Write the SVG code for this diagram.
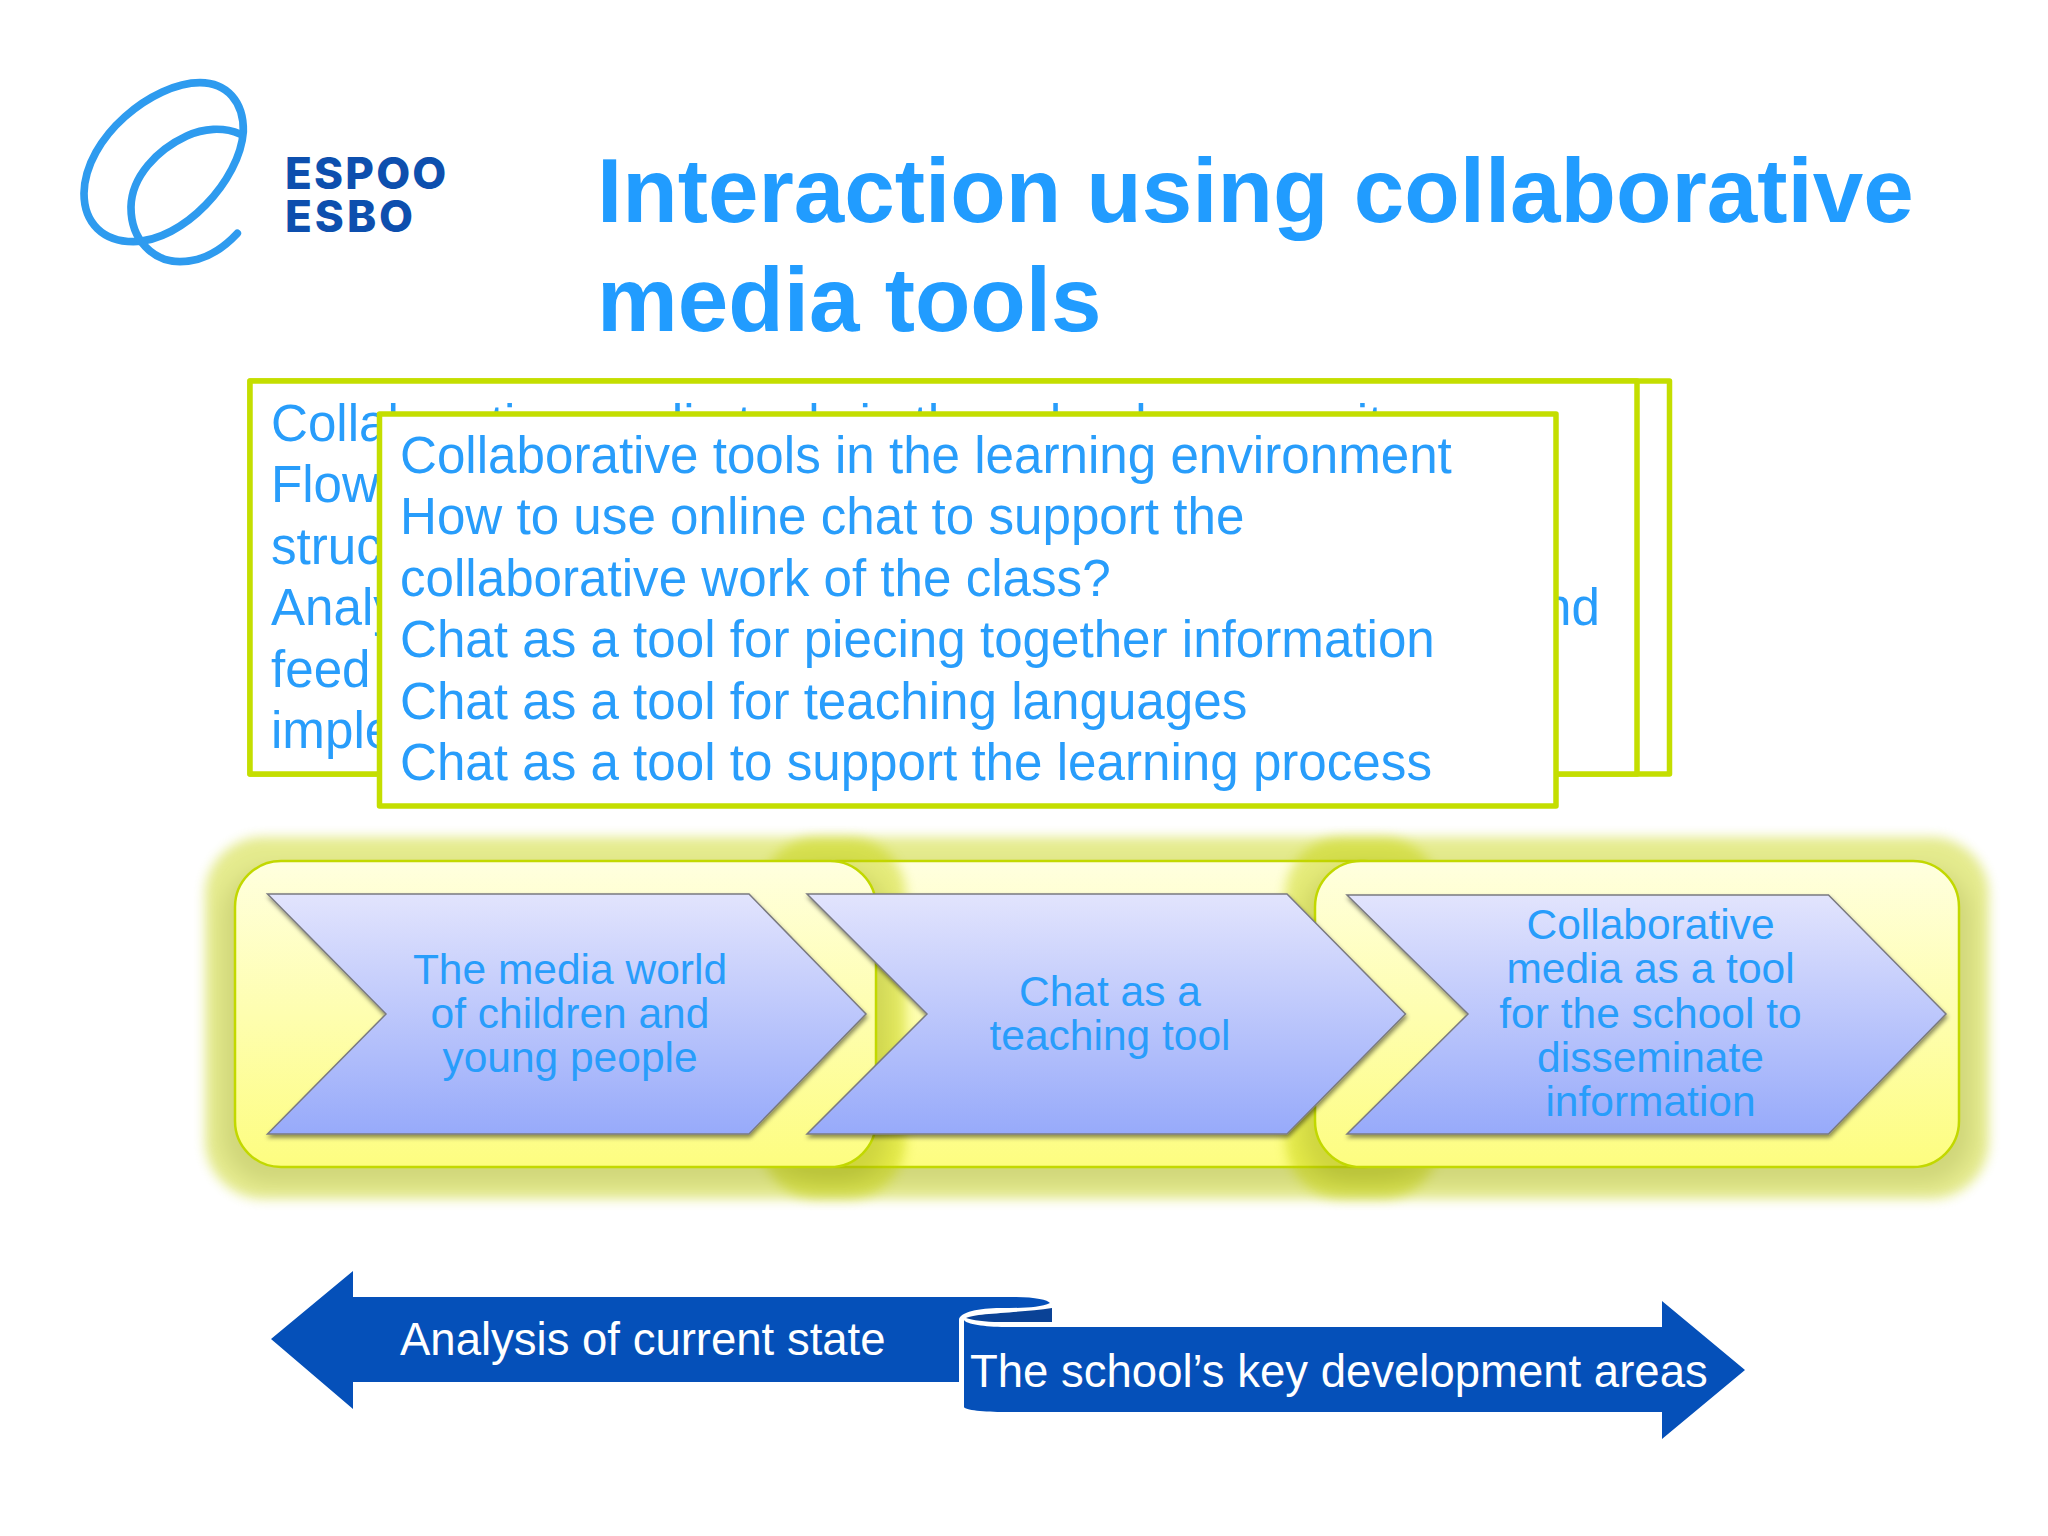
<svg xmlns="http://www.w3.org/2000/svg" width="2048" height="1536" viewBox="0 0 2048 1536">
<style>
text{font-family:"Liberation Sans",Arial,sans-serif}
.title{font-size:90.800px;font-weight:bold;fill:#219cff}
.body{font-size:51.150px;fill:#289dfb}
.box{fill:#fff;stroke:#c4de00;stroke-width:5.5;stroke-linejoin:round}
.chev{font-size:42.500px;fill:#289dfb;text-anchor:middle}
.panel{fill:url(#pg);stroke:#c2d800;stroke-width:2.5}
.glow{fill:#c4d200;opacity:.44;filter:url(#gb)}
.shade{fill:#000;opacity:.14;filter:url(#sb)}
.chevron{fill:url(#cg);stroke:#7a7a80;stroke-width:1.5;filter:url(#ds)}
.ban{font-size:45.500px;fill:#fff}
.blue{fill:#0550b9}
.logo{font-family:Inter,"Liberation Sans",sans-serif;font-weight:800;font-size:44px;fill:#0d4fae}
</style>
<defs>
<linearGradient id="pg" x1="0" y1="0" x2="0" y2="1"><stop offset="0" stop-color="#ffffdf"/><stop offset="1" stop-color="#fdfd80"/></linearGradient>
<linearGradient id="cg" x1="0" y1="0" x2="0" y2="1"><stop offset="0" stop-color="#e2e4fd"/><stop offset="1" stop-color="#97aafa"/></linearGradient>
<filter id="gb" x="-10%" y="-20%" width="120%" height="140%"><feGaussianBlur stdDeviation="6"/></filter>
<filter id="sb" x="-10%" y="-20%" width="120%" height="140%"><feGaussianBlur stdDeviation="10"/></filter>
<filter id="ds" x="-5%" y="-5%" width="110%" height="115%"><feDropShadow dx="1" dy="3" stdDeviation="2" flood-color="#000" flood-opacity=".45"/></filter>
</defs>
<rect width="2048" height="1536" fill="#fff"/>

<g id="logo">
<g transform="translate(60 60) scale(.3333)" fill="none" stroke="#2e9bef" stroke-width="23" stroke-linecap="round">
<path d="M420 68C500 68 552 125 550 215C540 360 370 545 220 545C130 545 72 490 72 400C75 230 280 68 420 68Z"/>
<path d="M540 222C490 200 430 205 380 228C290 270 215 350 213 440C212 540 280 605 360 605C430 605 490 565 532 520"/>
</g>
<text class="logo" x="285" y="189" letter-spacing="2.200">ESPOO</text>
<text class="logo" x="285" y="232" letter-spacing="3">ESBO</text>
</g>

<g id="title">
<text class="title" x="597" y="222">Interaction using collaborative</text>
<text class="title" x="597" y="331">media tools</text>
</g>

<g id="box-back-outer"><rect class="box" x="250" y="381" width="1419.500" height="393"/></g>
<g id="box-back">
<rect class="box" x="250" y="381" width="1387" height="393"/>
<text class="body" x="271" y="441">Collaborative media tools in the school community</text>
<text class="body" x="271" y="502">Flow</text>
<text class="body" x="271" y="564">struc</text>
<text class="body" x="271" y="625">Analy</text>
<text class="body" text-anchor="end" x="1600" y="625">and</text>
<text class="body" x="271" y="687">feed</text>
<text class="body" x="271" y="748">imple</text>
</g>
<g id="box-front">
<rect class="box" x="379.500" y="414" width="1176.500" height="392"/>
<text class="body" x="400" y="473">Collaborative tools in the learning environment</text>
<text class="body" x="400" y="534">How to use online chat to support the</text>
<text class="body" x="400" y="596">collaborative work of the class?</text>
<text class="body" x="400" y="657">Chat as a tool for piecing together information</text>
<text class="body" x="400" y="719">Chat as a tool for teaching languages</text>
<text class="body" x="400" y="780">Chat as a tool to support the learning process</text>
</g>

<g id="panel-2">
<rect class="shade" x="775" y="868" width="650" height="316" rx="50"/>
<rect class="glow" x="760" y="837" width="680" height="362" rx="58"/>
<rect class="panel" x="791" y="861" width="619" height="306" rx="46"/>
</g>
<g id="panel-1">
<rect class="shade" x="222" y="868" width="667" height="316" rx="50"/>
<rect class="glow" x="205" y="837" width="701" height="362" rx="58"/>
<rect class="panel" x="235" y="861" width="641" height="306" rx="46"/>
</g>
<g id="panel-3">
<rect class="shade" x="1302" y="868" width="670" height="316" rx="50"/>
<rect class="glow" x="1285" y="837" width="704" height="362" rx="58"/>
<rect class="panel" x="1315" y="861" width="644" height="306" rx="46"/>
</g>

<g id="chevron-1">
<path class="chevron" d="M267.500 894H749L866 1014L749 1134H267.500L386 1014Z"/>
<text class="chev" x="570" y="984">The media world</text>
<text class="chev" x="570" y="1028">of children and</text>
<text class="chev" x="570" y="1072">young people</text>
</g>
<g id="chevron-2">
<path class="chevron" d="M807 894H1287L1405.500 1014L1287 1134H807L927 1014Z"/>
<text class="chev" x="1110" y="1006">Chat as a</text>
<text class="chev" x="1110" y="1050">teaching tool</text>
</g>
<g id="chevron-3">
<path class="chevron" d="M1347 895H1828.500L1946 1014L1828.500 1134H1347L1468 1014Z"/>
<text class="chev" x="1650.500" y="939">Collaborative</text>
<text class="chev" x="1650.500" y="983">media as a tool</text>
<text class="chev" x="1650.500" y="1028">for the school to</text>
<text class="chev" x="1650.500" y="1072">disseminate</text>
<text class="chev" x="1650.500" y="1116">information</text>
</g>

<g id="arrow-left">
<path class="blue" d="M271 1339L353 1271V1297H1015C1035 1297 1048 1300 1050 1303C1040 1308 1020 1308 1000 1308C980 1308 959 1312 959 1320V1382H353V1409Z"/>
<text class="ban" x="400" y="1355">Analysis of current state</text>
</g>
<g id="arrow-right">
<path fill="#0a4296" d="M966 1318C975 1313 1020 1313 1052 1308V1322H1000C985 1322 972 1320 966 1318Z"/>
<path class="blue" d="M964 1320C966 1324 985 1327 1005 1327H1662V1301L1745 1370L1662 1439V1412H1005C985 1412 964 1410 964 1407Z"/>
<text class="ban" x="970" y="1387">The school’s key development areas</text>
</g>
</svg>
